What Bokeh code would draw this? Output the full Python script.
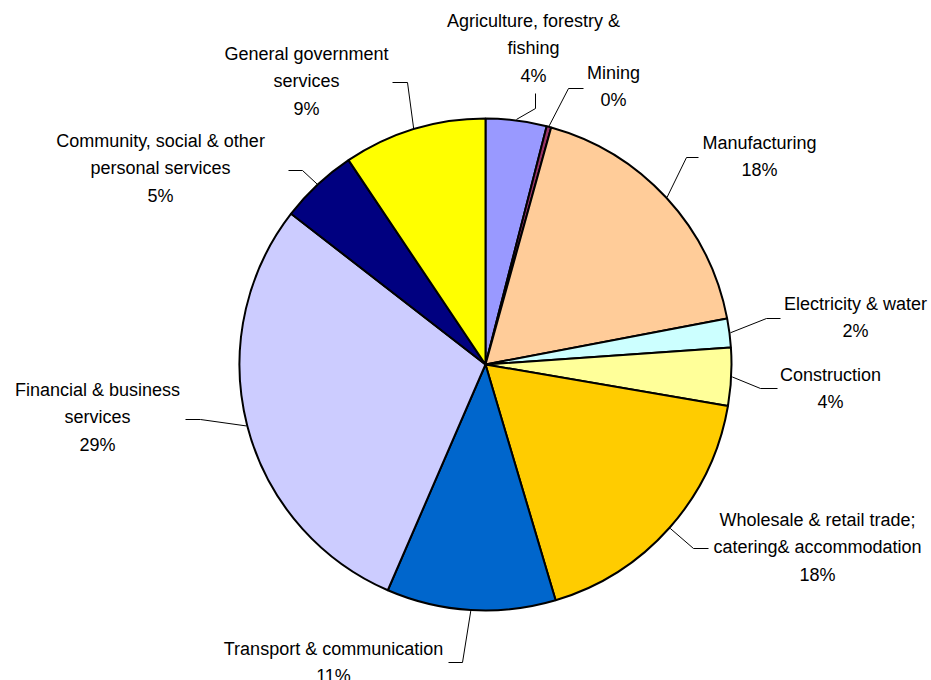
import numpy as np
from bokeh.plotting import figure
from bokeh.models import Range1d, ColumnDataSource
from bokeh.core.properties import value
from bokeh.embed import file_html
from bokeh.resources import INLINE

# ---- data ----
categories = [
    "Agriculture, forestry &\nfishing",
    "Mining",
    "Manufacturing",
    "Electricity & water",
    "Construction",
    "Wholesale & retail trade;\ncatering& accommodation",
    "Transport & communication",
    "Financial & business\nservices",
    "Community, social & other\npersonal services",
    "General government\nservices",
]
shares = [4.0, 0.3, 17.7, 1.9, 3.8, 17.7, 11.1, 29.0, 5.1, 9.4]
colors = ["#9999FF", "#993366", "#FFCC99", "#CCFFFF", "#FFFF99",
          "#FFCC00", "#0066CC", "#CCCCFF", "#000080", "#FFFF00"]

# ---- layout (screen pixels, y downward) ----
W, H = 931, 680
CX, CY, R = 485, 364, 246
label_x = [533, 613, 759, 855, 830, 817, 333, 97, 160, 306]
label_y = [48, 86, 156, 317, 388, 547, 662, 417, 168, 81]   # block centres
elbow_x = [[535, 535], [583, 568], [698, 686], [780, 766], [777, 760],
           [708, 693], [448, 462], [185, 200], [288, 302], [392, 407]]
elbow_y = [[93, 108], [88, 88], [157, 157], [318, 318], [388, 388],
           [548, 548], [662, 662], [419, 419], [170, 170], [82, 82]]

def fy(py):
    return H - py

vals = np.array(shares)
frac = vals / vals.sum()
cum_end = np.cumsum(frac)
cum_start = cum_end - frac
# clockwise from 12 o'clock
start_ang = np.pi / 2 - 2 * np.pi * cum_end
end_ang = np.pi / 2 - 2 * np.pi * cum_start
mid = np.pi / 2 - 2 * np.pi * (cum_start + frac / 2)

p = figure(width=W, height=H, output_backend="svg", toolbar_location=None,
           x_range=Range1d(0, W), y_range=Range1d(0, H), min_border=0)
p.axis.visible = False
p.grid.visible = False
p.outline_line_color = None

src = ColumnDataSource(dict(start=start_ang, end=end_ang, color=colors))
p.wedge(x=CX, y=fy(CY), radius=R, start_angle="start", end_angle="end",
        fill_color="color", line_color="black", line_width=2, source=src)

# leader lines
xs, ys = [], []
for i in range(len(shares)):
    ex = CX + (R + 1) * np.cos(mid[i])
    ey = fy(CY) + (R + 1) * np.sin(mid[i])
    xs.append(list(elbow_x[i]) + [ex])
    ys.append([fy(v) for v in elbow_y[i]] + [ey])
p.multi_line(xs=xs, ys=ys, line_color="black", line_width=1)

texts = [f"{c}\n{round(s)}%" for c, s in zip(categories, shares)]
p.text(x=label_x, y=[fy(v) for v in label_y], text=texts,
       text_font=value("Liberation Sans"), text_font_size="18px",
       text_align="center", text_baseline="middle", text_line_height=1.38,
       text_color="#000000")

open("out.html", "w").write(file_html(p, INLINE))
